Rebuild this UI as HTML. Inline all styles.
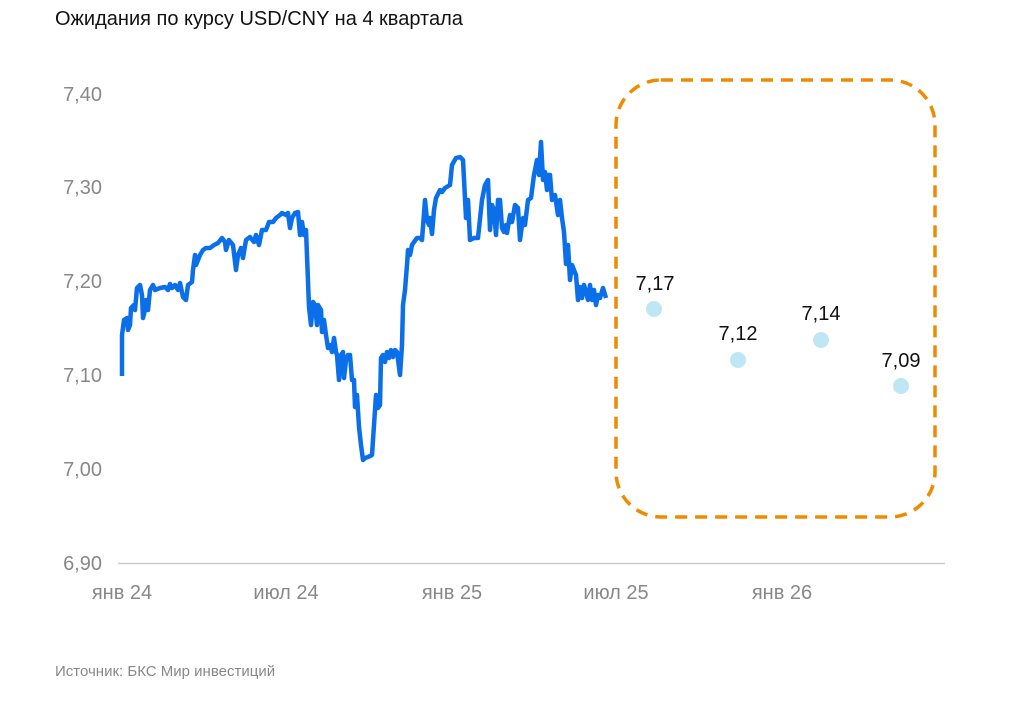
<!DOCTYPE html>
<html><head><meta charset="utf-8"><style>
body{margin:0;background:#fff;width:1024px;height:698px;overflow:hidden}
</style></head><body>
<svg width="1024" height="698" xmlns="http://www.w3.org/2000/svg" font-family="Liberation Sans, sans-serif">
<text x="55" y="25" font-size="20" fill="#111">Ожидания по курсу USD/CNY на 4 квартала</text>
<g font-size="20" fill="#888" text-anchor="end">
<text x="102" y="101">7,40</text>
<text x="102" y="194">7,30</text>
<text x="102" y="288">7,20</text>
<text x="102" y="382">7,10</text>
<text x="102" y="476">7,00</text>
<text x="102" y="570">6,90</text>
</g>
<line x1="118" y1="563.5" x2="945" y2="563.5" stroke="#ccc" stroke-width="1.5"/>
<g font-size="20" fill="#888" text-anchor="middle">
<text x="122" y="599">янв 24</text>
<text x="286" y="599">июл 24</text>
<text x="452" y="599">янв 25</text>
<text x="616" y="599">июл 25</text>
<text x="782" y="599">янв 26</text>
</g>
<polyline fill="none" stroke="#0a6fe8" stroke-width="4.5" stroke-linejoin="round" points="122,376 122,335 124,320 127,318 128,330 130,325 131,308 134,305 135,310 137,288 140,285 142,295 143,318 145,310 146,300 148,310 150,290 153,285 155,290 160,288 165,287 168,290 170,284 172,288 175,285 178,290 180,283 183,297 186,300 188,285 192,282 193,270 195,255 196,265 198,260 200,255 203,250 206,248 210,248 214,245 218,243 222,238 225,242 226,250 229,240 233,245 236,270 238,255 241,248 243,258 246,240 250,237 254,242 256,235 259,245 262,230 266,230 269,222 273,222 276,218 280,215 282,213 286,215 288,213 290,228 292,218 295,213 298,212 300,235 302,222 304,235 306,230 309,307 311,325 313,302 315,305 317,325 318,305 321,310 322,332 324,320 326,335 328,348 330,345 332,352 334,338 336,352 337,355 339,380 341,355 343,352 344,378 346,360 348,355 350,355 352,380 354,380 355,407 357,395 359,427 361,445 363,460 365,458 368,457 372,455 374,425 376,395 378,408 380,405 381,358 383,355 385,362 387,352 389,358 391,350 393,357 395,350 397,352 400,375 402,345 403,305 405,290 407,265 408,250 410,255 412,245 414,242 417,238 420,238 422,240 425,200 427,220 429,225 430,218 432,234 434,210 436,198 440,190 442,192 445,188 450,185 452,165 456,158 460,157 463,160 466,218 468,200 470,240 474,238 478,238 482,200 485,185 488,180 490,230 492,205 494,210 496,235 498,200 500,200 502,228 504,232 506,225 507,233 510,215 512,222 515,205 518,208 520,240 523,218 525,225 528,200 531,198 534,175 537,160 539,175 541,142 543,180 545,172 547,190 548,175 550,175 552,200 555,195 558,215 560,200 562,218 564,232 566,264 568,245 570,280 572,265 574,270 576,275 578,300 580,287 582,298 584,285 586,292 588,300 590,285 592,300 594,290 596,305 598,295 600,298 603,288 606,298"/>
<rect x="616" y="80" width="319" height="437" rx="45" fill="none" stroke="#f08a00" stroke-width="3.5" stroke-dasharray="12 8"/>
<g fill="#bfe6f5">
<circle cx="654" cy="309" r="8"/><circle cx="738" cy="360" r="8"/><circle cx="821" cy="340" r="8"/><circle cx="901" cy="386" r="8"/>
</g>
<g font-size="20" fill="#111" text-anchor="middle">
<text x="655" y="290">7,17</text><text x="738" y="340">7,12</text><text x="821" y="320">7,14</text><text x="901" y="367">7,09</text>
</g>
<text x="55" y="676" font-size="15" fill="#888">Источник: БКС Мир инвестиций</text>
</svg>
</body></html>
